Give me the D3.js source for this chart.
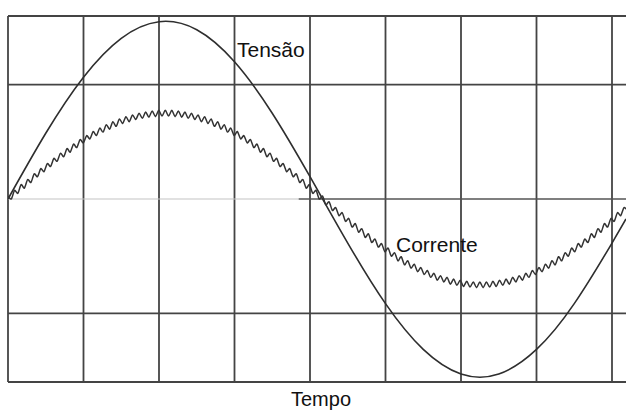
<!DOCTYPE html>
<html>
<head>
<meta charset="utf-8">
<script src="https://cdn.jsdelivr.net/npm/d3@7"></script>
<style>
  html, body { margin: 0; padding: 0; background: #fff; }
  svg { display: block; }
  text { font-family: "Liberation Sans", Arial, sans-serif; fill: #111; }
</style>
</head>
<body>
<svg id="chart" width="626" height="410"></svg>
<script>
// Oscilloscope trace: 60 Hz supply voltage and rectifier current with switching ripple.
// Time in ms (2 ms per division), amplitude in V / arbitrary current units on one screen.

const gridTimes = [0, 2, 4, 6, 8, 10, 12, 14, 16];
const gridLevels = [320, 200, -200, -320];
const centerLevel = 0;

// Voltage samples, one per ms
const voltageTimes = [0, 1, 2, 3, 4, 5, 6, 7, 8, 9, 10, 11, 12, 13, 14, 15, 16, 16.37];
const voltageValues = [0, 115, 213, 281, 310, 296, 240, 150, 39, -77, -183, -263, -306, -306, -263, -183, -77, -35];

// Current trace, zigzag vertices every 0.0868 ms
const currentStep = 0.0868;
const currentValues = [
  5, 0, 15, 10, 25, 19, 34, 29, 44, 39, 53, 48, 62, 57, 71, 66, 80, 74, 88, 82,
  96, 90, 104, 98, 111, 105, 118, 111, 124, 117, 130, 122, 135, 127, 140, 132, 144, 135, 147, 139,
  150, 141, 152, 143, 154, 144, 155, 145, 155, 145, 155, 144, 154, 143, 152, 141, 150, 139, 147, 135,
  144, 132, 140, 127, 135, 122, 130, 117, 124, 111, 118, 105, 111, 98, 104, 90, 96, 82, 88, 74,
  80, 66, 71, 57, 62, 48, 53, 39, 44, 29, 34, 19, 25, 10, 15, 0, 5,
  -10, -5, -20, -15, -29, -24, -39, -34, -49, -43, -58, -52, -67, -61, -76, -70, -84, -78, -92, -86,
  -100, -94, -108, -101, -115, -108, -121, -114, -127, -120, -132, -125, -137, -130, -142, -134, -145, -137, -149, -140,
  -151, -142, -153, -144, -154, -145, -155, -145, -155, -145, -154, -144, -153, -142, -151, -140, -149, -137, -145, -134,
  -142, -130, -137, -125, -132, -120, -127, -114, -121, -108, -115, -101, -108, -94, -100, -86, -92, -78, -84, -70,
  -76, -61, -67, -52, -58, -43, -49, -34, -39, -24, -29, -15, -20
];

const labels = { voltage: "Tensão", current: "Corrente", time: "Tempo" };

const svg = d3.select("#chart");
const W = 626;

const x = d3.scaleLinear().domain([0, 16]).range([8, 612]);
const y = d3.scaleLinear().domain([-320, 320]).range([382, 16]);

const clipId = "screen";
svg.append("clipPath").attr("id", clipId)
  .append("rect").attr("x", x(0)).attr("y", y(320) - 1).attr("width", W - x(0)).attr("height", y(-320) - y(320) + 2);

const grid = svg.append("g").attr("stroke", "#444").attr("stroke-width", 1.8);

// vertical divisions
grid.selectAll("line.v").data(gridTimes).join("line")
  .attr("class", "v")
  .attr("x1", d => x(d)).attr("x2", d => x(d))
  .attr("y1", y(320)).attr("y2", y(-320));

// horizontal divisions
grid.selectAll("line.h").data(gridLevels).join("line")
  .attr("class", "h")
  .attr("x1", x(0)).attr("x2", W)
  .attr("y1", d => y(d)).attr("y2", d => y(d));

// centre (zero) line: faint on the left, darker on the right
svg.append("line")
  .attr("x1", x(0)).attr("x2", x(7.7))
  .attr("y1", y(centerLevel)).attr("y2", y(centerLevel))
  .attr("stroke", "#c4c4c4").attr("stroke-width", 1.2);
svg.append("line")
  .attr("x1", x(7.7)).attr("x2", W)
  .attr("y1", y(centerLevel)).attr("y2", y(centerLevel))
  .attr("stroke", "#555").attr("stroke-width", 1.5);

const traces = svg.append("g").attr("clip-path", `url(#${clipId})`).attr("fill", "none");

const voltageLine = d3.line()
  .x((d, i) => x(voltageTimes[i]))
  .y(d => y(d))
  .curve(d3.curveNatural);

traces.append("path")
  .datum(voltageValues)
  .attr("d", voltageLine)
  .attr("stroke", "#2e2e2e")
  .attr("stroke-width", 1.6);

const currentLine = d3.line()
  .x((d, i) => x(i * currentStep))
  .y(d => y(d))
  .curve(d3.curveCardinal.tension(0.2));

traces.append("path")
  .datum(currentValues)
  .attr("d", currentLine)
  .attr("stroke", "#333")
  .attr("stroke-width", 1.5);

// labels
svg.append("text").attr("x", 237).attr("y", 57).attr("font-size", 21).text(labels.voltage);
svg.append("text").attr("x", 396).attr("y", 252).attr("font-size", 21).text(labels.current);
svg.append("text").attr("x", 321).attr("y", 406).attr("font-size", 20).attr("text-anchor", "middle").text(labels.time);
</script>
</body>
</html>
